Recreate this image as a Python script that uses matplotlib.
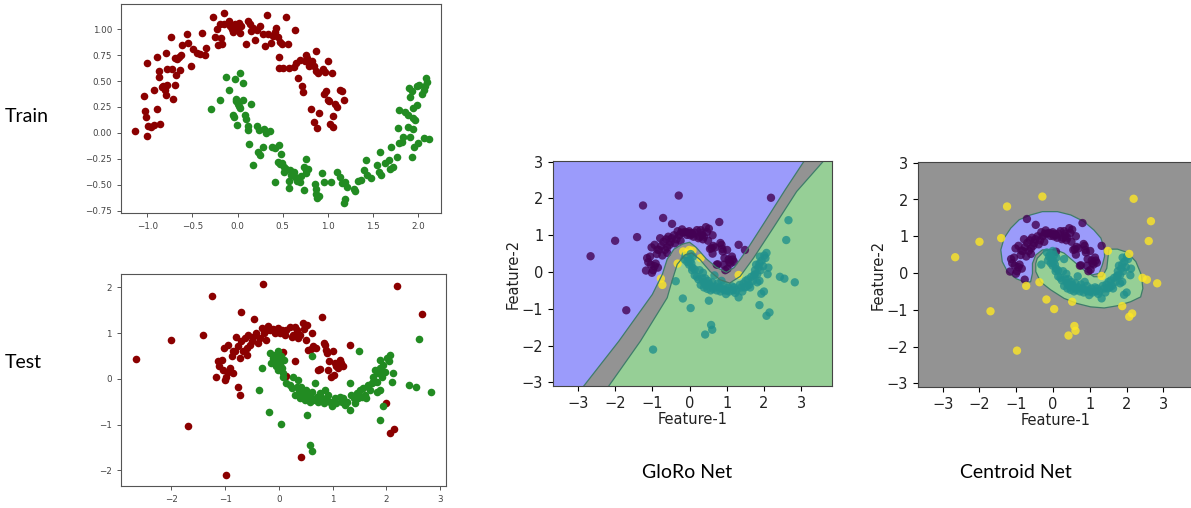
import numpy as np
import matplotlib.pyplot as plt
from matplotlib.path import Path

# ---- train data (two moons) ----
train_red_x = [-1.14, -1.00, -1.02, -1.01, -0.99, -0.96, -0.92, -0.86, -0.89, -1.00, -1.04, -0.92, -0.89, -0.87,
               -0.87, -0.84, -0.82, -0.80, -0.79, -0.78, -0.79, -0.78, -0.73, -0.71, -0.69, -0.68, -0.69, -0.67,
               -0.65, -0.63, -0.64, -0.74, -0.62, -0.56, -0.55, -0.52, -0.49, -0.45, -0.42, -0.39, -0.36, -0.35,
               -0.27, -0.25, -0.23, -0.22, -0.20, -0.18, -0.17, -0.15, -0.15, -0.10, -0.08, -0.06, -0.05, -0.03,
               -0.01, 0.01, 0.04, 0.03, 0.09, 0.12, 0.14, 0.15, 0.17, 0.19, 0.22, 0.25, 0.28, 0.30, 0.32, 0.34,
               0.37, 0.39, 0.41, 0.43, 0.45, 0.47, 0.46, 0.49, 0.54, 0.56, 0.63, 0.46, 0.50, 0.57, 0.62, 0.67,
               0.65, 0.69, 0.76, 0.77, 0.75, 0.79, 0.82, 0.85, 0.87, 0.87, 0.89, 0.95, 0.97, 1.00, 1.04, 0.71,
               0.72, 0.81, 0.84, 0.88, 0.90, 0.96, 0.98, 1.00, 1.01, 1.02, 1.05, 1.06, 1.08, 1.10, 1.13, 1.15, 1.18]
train_red_y = [0.02, -0.03, 0.21, 0.15, 0.07, 0.06, 0.08, 0.09, 0.23, 0.67, 0.36, 0.41, 0.73, 0.60,
               0.54, 0.44, 0.45, 0.41, 0.37, 0.46, 0.77, 0.62, 0.62, 0.33, 0.46, 0.56, 0.72, 0.71,
               0.73, 0.75, 0.61, 0.93, 0.85, 0.95, 0.87, 0.65, 0.81, 0.77, 0.76, 0.96, 0.75, 0.82,
               1.12, 0.93, 1.00, 0.85, 1.05, 0.92, 0.86, 1.16, 1.05, 1.08, 1.03, 1.00, 0.97, 1.05,
               1.01, 1.06, 1.03, 0.96, 0.86, 1.08, 1.05, 0.98, 1.01, 0.90, 0.99, 1.03, 0.95, 0.84, 1.14, 0.95,
               0.87, 0.94, 0.97, 1.01, 0.93, 0.88, 0.73, 0.86, 1.12, 0.86, 0.99, 0.63, 0.63, 0.63, 0.64, 0.53,
               0.67, 0.70, 0.75, 0.72, 0.69, 0.65, 0.69, 0.65, 0.79, 0.60, 0.58, 0.62, 0.59, 0.69, 0.58, 0.45,
               0.39, 0.23, 0.11, 0.05, 0.19, 0.38, 0.40, 0.32, 0.31, 0.09, 0.06, 0.16, 0.28, 0.25, 0.41, 0.40, 0.32]

train_green_x = [-0.29, -0.19, -0.13, -0.10, -0.03, 0.03, 0.06, -0.02, 0.00, 0.01, 0.03, 0.06, -0.02, -0.05,
                 -0.04, -0.01, 0.08, 0.09, 0.11, 0.12, 0.15, 0.21, 0.24, 0.29, 0.31, 0.36, 0.13, 0.23, 0.25,
                 0.17, 0.28, 0.38, 0.41, 0.46, 0.48, 0.45, 0.47, 0.49, 0.51, 0.51, 0.54, 0.58, 0.59, 0.62, 0.63,
                 0.66, 0.69, 0.70, 0.73, 0.76, 0.76, 0.73, 0.41, 0.57, 0.57, 0.76, 0.78, 0.86, 0.87, 0.87, 0.88,
                 0.90, 0.93, 0.96, 1.03, 1.10, 1.13, 1.15, 1.19, 1.18, 1.19, 1.21, 1.29, 1.30, 1.33, 1.37, 1.40,
                 1.43, 1.42, 1.48, 1.54, 1.56, 1.58, 1.59, 1.63, 1.67, 1.69, 1.70, 1.72, 1.76, 1.77, 1.78, 1.79,
                 1.82, 1.83, 1.85, 1.88, 1.89, 1.91, 1.93, 1.94, 1.94, 1.95, 1.96, 1.90, 1.91, 1.93, 1.94, 1.98,
                 1.99, 2.00, 2.01, 2.04, 2.06, 2.06, 2.07, 2.08, 2.09, 2.12]
train_green_y = [0.23, 0.32, 0.54, 0.41, 0.52, 0.58, 0.48, 0.33, 0.28, 0.26, 0.24, 0.32, 0.31, 0.17,
                 0.15, 0.08, 0.17, 0.13, 0.07, 0.03, 0.28, 0.07, 0.03, 0.04, 0.00, 0.02, -0.11, -0.18, -0.21,
                 -0.31, -0.14, -0.14, -0.15, -0.12, -0.20, -0.28, -0.30, -0.29, -0.33, -0.38, -0.35, -0.36, -0.41, -0.38, -0.43,
                 -0.46, -0.47, -0.42, -0.33, -0.36, -0.39, -0.55, -0.47, -0.46, -0.53, -0.25, -0.35, -0.49, -0.54, -0.59, -0.63,
                 -0.61, -0.39, -0.47, -0.47, -0.38, -0.43, -0.48, -0.47, -0.68, -0.64, -0.52, -0.54, -0.56, -0.46, -0.45, -0.36,
                 -0.41, -0.26, -0.44, -0.31, -0.38, -0.18, -0.41, -0.29, -0.26, -0.35, -0.14, -0.33, -0.23, 0.05, -0.10, 0.22,
                 -0.09, -0.04, 0.20, 0.17, 0.06, -0.04, -0.23, 0.04, 0.14, -0.14, 0.12, 0.43, 0.35, 0.40, 0.24, 0.45,
                 0.27, -0.10, 0.46, 0.38, 0.41, -0.05, 0.45, 0.53, 0.49, -0.06]

# ---- test data (noisy moons) ----
test_red_x = [-1.17, -1.04, -1.01, -1.06, -1.02, -0.94, -0.91, -0.85, -0.88, -0.82, -0.79, -0.76, -0.73, -0.70,
              -0.66, -0.63, -0.60, -0.57, -0.54, -0.51, -0.48, -0.42, -0.39, -0.35, -0.32, -0.28, -0.24, -0.20,
              -0.17, -0.11, -0.07, -0.04, -0.01, 0.02, 0.05, 0.08, 0.11, 0.14, 0.20, 0.24, 0.27, 0.30, 0.34,
              0.36, 0.39, 0.44, 0.47, 0.50, 0.52, 0.55, 0.59, 0.62, 0.64, 0.69, 0.73, 0.76, 0.83, 0.86, 0.88,
              0.89, 0.92, 0.94, 0.96, 1.01, 1.02, 1.05, 1.07, 1.10, 1.14, 1.16, 1.19, -0.98, -0.94, -1.11,
              -1.14, -0.86, -0.60, -0.23, 0.33,
              -2.66, -2.00, -1.70, -1.41, -1.25, -0.98, -0.71, -0.47, -0.29, 0.42, 0.80, 1.32, 2.19, 2.66,
              2.00, 2.07, 2.15, -0.77, -0.73, 0.08, 0.14, 0.30]
test_red_y = [0.04, 0.20, -0.02, 0.42, 0.67, 0.74, 0.23, 0.12, 0.49, 0.60, 0.92, 0.71, 0.45, 0.82,
              0.60, 0.89, 0.67, 0.96, 0.74, 0.82, 0.92, 1.00, 0.78, 0.89, 1.11, 1.00, 0.85, 1.16,
              1.07, 1.09, 1.01, 1.07, 1.11, 1.00, 1.06, 1.03, 0.96, 1.07, 1.14, 0.92, 0.96, 1.14, 1.00,
              0.89, 0.96, 1.22, 1.09, 0.85, 1.18, 0.63, 0.65, 1.00, 0.71, 0.67, 0.20, 0.21, 0.79, 0.74, 0.63,
              0.56, 0.20, 0.38, 0.05, 0.60, 0.09, 0.34, 0.27, 0.23, 0.42, 0.34, 0.28, 0.05, 0.16, 0.27,
              0.38, 0.61, 0.52, 1.07, 1.07,
              0.43, 0.85, -1.04, 0.95, 1.81, -2.11, 1.47, 1.31, 2.08, -1.70, 1.36, 0.74, 2.02, 1.41,
              -0.53, -1.19, -1.10, -0.18, -0.35, 0.58, 0.07, 0.38]

test_green_x = [-0.17, -0.11, -0.14, -0.07, -0.04, -0.01, -0.06, -0.01, 0.02, 0.05, 0.08, 0.09, 0.03, 0.07,
                0.14, 0.20, 0.27, 0.24, 0.30, 0.34, 0.38, 0.39, 0.42, 0.45, 0.48, 0.50, 0.53, 0.57, 0.58,
                0.61, 0.64, 0.67, 0.70, 0.73, 0.76, 0.80, 0.83, 0.86, 0.89, 0.92, 0.95, 0.98, 1.01, 1.04,
                1.07, 1.14, 1.17, 1.20, 1.23, 1.26, 1.35, 1.39, 1.42, 1.45, 1.48, 1.51, 1.54, 1.57, 1.60,
                1.63, 1.66, 1.70, 1.73, 1.76, 1.79, 1.82, 1.85, 1.88, 1.89, 1.91, 1.94, 1.98, 2.01, 2.04,
                2.07, 2.10, 2.12, 1.88, 1.82, 1.76, 0.36, 0.42,
                -0.37, -0.32, -0.18, 0.03, 0.52, 0.58, 0.61, 0.62, 1.32, 1.32, 1.49, 1.88, 1.93, 2.43,
                2.55, 2.83, 2.60]
test_green_y = [0.56, 0.45, 0.34, 0.52, 0.38, 0.60, 0.27, 0.20, 0.31, 0.23, 0.12, 0.42, 0.49, 0.05,
                -0.09, -0.13, 0.05, -0.20, -0.35, -0.17, -0.28, -0.42, -0.31, -0.37, -0.46, -0.24, -0.33, -0.50, -0.39,
                -0.28, -0.46, -0.09, -0.39, -0.50, -0.31, -0.42, -0.53, -0.24, -0.46, -0.35, -0.50, -0.60, -0.50, -0.42,
                -0.53, -0.39, -0.50, -0.42, -0.57, -0.50, -0.35, -0.42, -0.53, -0.31, -0.42, -0.24, -0.39, -0.20, -0.35,
                -0.42, -0.13, -0.24, -0.09, 0.05, 0.20, -0.06, 0.12, 0.23, 0.42, 0.05, 0.31, 0.16, 0.45, 0.38,
                0.52, -0.06, 0.12, -0.24, -0.28, -0.06, -0.02, -0.17,
                -0.25, 0.23, -0.72, -0.98, -0.78, -1.44, -1.57, 0.50, -0.08, -0.69, 0.60, -0.90, -0.59, -0.13,
                -0.18, -0.28, 0.87]

# ---- GloRo decision boundary (edges of the abstain band) ----
gloro_upper_x = [-2.92, -1.90, -1.00, -0.73, -0.60, -0.42, -0.19, 0.00, 0.18, 0.45, 0.72, 0.99, 1.20, 1.52, 2.04, 2.58, 3.20]
gloro_upper_y = [-3.2, -1.88, -0.61, -0.06, 0.35, 0.62, 0.76, 0.81, 0.67, 0.36, 0.13, -0.01, 0.12, 0.57, 1.39, 2.25, 3.2]
gloro_lower_x = [-2.24, -1.32, -0.60, -0.47, -0.33, -0.12, 0.06, 0.28, 0.55, 0.82, 1.08, 1.36, 1.72, 2.25, 2.88, 3.76]
gloro_lower_y = [-3.2, -1.88, -0.70, -0.24, 0.21, 0.47, 0.52, 0.34, 0.02, -0.21, -0.30, -0.12, 0.38, 1.20, 2.19, 3.2]

# ---- Centroid net regions (crescents) ----
cent_blue_x = [-1.24, -1.38, -1.42, -1.33, -1.15, -0.92, -0.61, -0.29, 0.12, 0.48, 0.84, 1.11, 1.30, 1.39, 1.40,
               1.34, 1.25, 1.07, 0.89, 0.66, 0.43, 0.25, -0.02, -0.29, -0.47, -0.56, -0.56, -0.61, -0.79, -1.01]
cent_blue_y = [0.04, 0.31, 0.63, 0.95, 1.22, 1.45, 1.58, 1.67, 1.67, 1.58, 1.40, 1.17, 0.95, 0.67, 0.45,
               0.22, -0.01, -0.05, -0.01, 0.13, 0.31, 0.49, 0.63, 0.63, 0.49, 0.26, -0.01, -0.24, -0.24, -0.15]
cent_green_x = [-0.43, -0.24, 0.03, 0.30, 0.57, 0.84, 1.11, 1.34, 1.46, 1.49, 1.52, 1.75, 2.02, 2.25, 2.40, 2.44,
                2.38, 2.11, 1.75, 1.39, 1.02, 0.66, 0.30, -0.06, -0.34, -0.47, -0.47]
cent_green_y = [0.40, 0.60, 0.65, 0.54, 0.31, 0.08, -0.10, -0.10, 0.13, 0.40, 0.65, 0.65, 0.56, 0.31, -0.05, -0.42,
                -0.65, -0.78, -0.89, -0.95, -0.92, -0.83, -0.69, -0.46, -0.24, 0.04, 0.26]

BLUE = '#9b9bfb'
GREEN = '#96cf96'
GRAY = '#939393'
EDGE = '#3f7c6a'
PURPLE, TEAL, YELLOW = '#440154', '#21918c', '#fde725'

W, H = 1191, 508
fig = plt.figure(figsize=(W / 100, H / 100), dpi=100)


def box(l, t, r, b):
    return [l / W, 1 - b / H, (r - l) / W, (b - t) / H]


def small_style(ax):
    ax.tick_params(labelsize=6.3, labelcolor='#444444', color='#555555', length=3, width=0.7)
    for s in ax.spines.values():
        s.set_color('#555555')
        s.set_linewidth(0.8)


# Train panel
ax1 = fig.add_axes(box(121, 4, 441, 213))
ax1.scatter(train_red_x, train_red_y, s=30, color='darkred', linewidths=0)
ax1.scatter(train_green_x, train_green_y, s=30, color='forestgreen', linewidths=0)
ax1.set_xlim(-1.29, 2.25)
ax1.set_ylim(-0.773, 1.244)
ax1.set_xticks([-1.0, -0.5, 0.0, 0.5, 1.0, 1.5, 2.0])
ax1.set_yticks([-0.75, -0.5, -0.25, 0.0, 0.25, 0.5, 0.75, 1.0])
ax1.set_xticklabels(['−1.0', '−0.5', '0.0', '0.5', '1.0', '1.5', '2.0'])
ax1.set_yticklabels(['−0.75', '−0.50', '−0.25', '0.00', '0.25', '0.50', '0.75', '1.00'])
small_style(ax1)

# Test panel
ax2 = fig.add_axes(box(121, 274, 446, 486))
ax2.scatter(test_red_x, test_red_y, s=30, color='darkred', linewidths=0)
ax2.scatter(test_green_x, test_green_y, s=30, color='forestgreen', linewidths=0)
ax2.set_xlim(-2.94, 3.11)
ax2.set_ylim(-2.34, 2.29)
ax2.set_xticks([-2, -1, 0, 1, 2, 3])
ax2.set_yticks([-2, -1, 0, 1, 2])
small_style(ax2)

test_x = np.array(test_red_x + test_green_x)
test_y = np.array(test_red_y + test_green_y)
pts = np.column_stack([test_x, test_y])


def region_colors(blue_poly, green_poly):
    in_b = Path(blue_poly).contains_points(pts)
    in_g = Path(green_poly).contains_points(pts)
    return np.where(in_b, PURPLE, np.where(in_g, TEAL, YELLOW))


def big_style(ax):
    ax.set_xlim(-3.67, 3.83)
    ax.set_ylim(-3.10, 3.02)
    ax.set_xticks([-3, -2, -1, 0, 1, 2, 3])
    ax.set_yticks([-3, -2, -1, 0, 1, 2, 3])
    ax.tick_params(labelsize=10.5, labelcolor='#222222', length=3.5)
    ax.set_xlabel('Feature-1', fontsize=10.5, color='#222222', labelpad=1)
    ax.set_ylabel('Feature-2', fontsize=10.5, color='#222222', labelpad=1)
    for s in ax.spines.values():
        s.set_color('#444444')


# GloRo panel
ax3 = fig.add_axes(box(553, 161, 832, 386))
ax3.set_facecolor(GRAY)
blue_poly = list(zip(gloro_upper_x, gloro_upper_y)) + [(-4.5, 3.2), (-4.5, -3.2)]
green_poly = list(zip(gloro_lower_x, gloro_lower_y)) + [(4.5, 3.2), (4.5, -3.2)]
ax3.fill([p[0] for p in blue_poly], [p[1] for p in blue_poly], color=BLUE, lw=0)
ax3.fill([p[0] for p in green_poly], [p[1] for p in green_poly], color=GREEN, lw=0)
ax3.plot(gloro_upper_x, gloro_upper_y, color=EDGE, lw=0.9)
ax3.plot(gloro_lower_x, gloro_lower_y, color=EDGE, lw=0.9)
ax3.scatter(test_x, test_y, s=36, c=region_colors(blue_poly, green_poly), alpha=0.8, linewidths=0)
big_style(ax3)

# Centroid panel
ax4 = fig.add_axes(box(918, 162, 1194, 387))
ax4.set_facecolor(GRAY)
ax4.fill(cent_blue_x, cent_blue_y, facecolor=BLUE, edgecolor=EDGE, lw=0.9)
ax4.fill(cent_green_x, cent_green_y, facecolor=GREEN, edgecolor=EDGE, lw=0.9)
cb = list(zip(cent_blue_x, cent_blue_y))
cg = list(zip(cent_green_x, cent_green_y))
ax4.scatter(test_x, test_y, s=36, c=region_colors(cb, cg), alpha=0.8, linewidths=0)
big_style(ax4)

# Annotations
lab = dict(fontsize=14, family='Lato', color='black', va='center')
fig.text(5 / W, 1 - 117 / H, 'Train', ha='left', **lab)
fig.text(5 / W, 1 - 362 / H, 'Test', ha='left', **lab)
fig.text(687 / W, 1 - 472 / H, 'GloRo Net', ha='center', **lab)
fig.text(1016 / W, 1 - 472 / H, 'Centroid Net', ha='center', **lab)

fig.savefig('out.png', dpi=100)
